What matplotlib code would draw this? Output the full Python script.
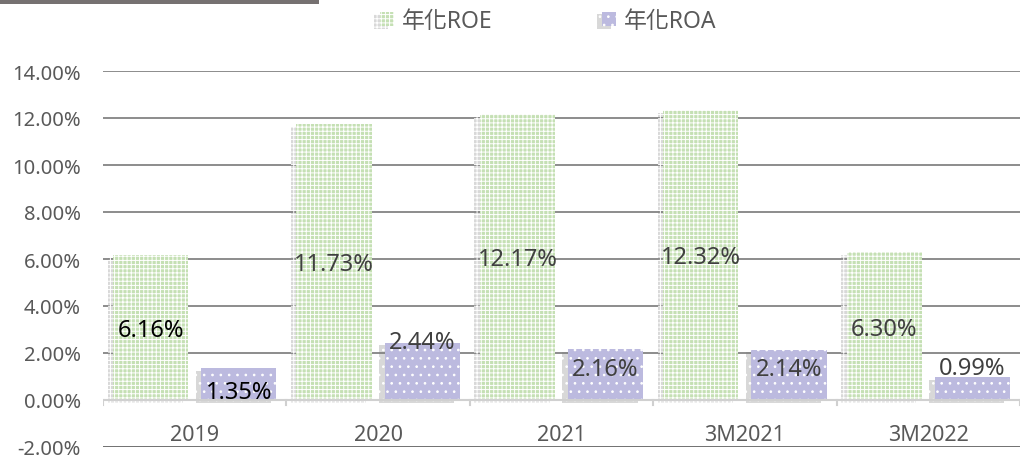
import matplotlib
matplotlib.use('Agg')
import matplotlib.pyplot as plt
import matplotlib.patheffects as pe
from matplotlib.patches import Rectangle
import numpy as np

plt.rcParams['font.family'] = ['Noto Sans', 'Noto Sans CJK TC', 'DejaVu Sans']
plt.rcParams['hatch.linewidth'] = 0.7

categories = ['2019', '2020', '2021', '3M2021', '3M2022']
roe = [6.16, 11.73, 12.17, 12.32, 6.30]
roa = [1.35, 2.44, 2.16, 2.14, 0.99]
roe_labels = ['6.16%', '11.73%', '12.17%', '12.32%', '6.30%']
roa_labels = ['1.35%', '2.44%', '2.16%', '2.14%', '0.99%']
# where each data label sits (value units), as in the reference
roe_label_y = [2.98, 5.8, 6.0, 6.09, 3.02]
roa_label_y = [0.34, 2.47, 1.32, 1.32, 1.36]
label_colors = ['black', '#404040', '#404040', '#404040', '#404040']
yticks = [-2, 0, 2, 4, 6, 8, 10, 12, 14]

fig = plt.figure(figsize=(10.25, 4.56), dpi=100)
ax = fig.add_axes([103 / 1025, 8 / 456, 917 / 1025, 376 / 456])

x = np.arange(len(categories))
w = 0.41
off = 0.24
shadow = [pe.SimplePatchShadow(offset=(-4, -2), shadow_rgbFace='#7f7f7f', alpha=0.3), pe.Normal()]

b1 = ax.bar(x - off, roe, w, color='#c5e0b4', edgecolor='white', hatch='++++',
            linewidth=0, zorder=3, label='年化ROE')
b2 = ax.bar(x + off, roa, w, color='#bcbadf', edgecolor='white', hatch='..',
            linewidth=0, zorder=3, label='年化ROA')
for b in list(b1) + list(b2):
    b.set_path_effects(shadow)

for i in range(len(categories)):
    ax.text(x[i] - off, roe_label_y[i], roe_labels[i], ha='center', va='center',
            fontsize=17, color=label_colors[i], zorder=5)
    ax.text(x[i] + off, roa_label_y[i], roa_labels[i], ha='center', va='center',
            fontsize=17, color=label_colors[i], zorder=5)
    ax.text(x[i], -1.45, categories[i], ha='center', va='center', fontsize=15.5, color='#595959')

# gridlines
for t in yticks:
    if t == -2:
        ax.axhline(t, color='#595959', lw=1.2, zorder=1)
    elif t == 0:
        ax.axhline(t, color='#d0d0d0', lw=1.5, zorder=4)
    else:
        ax.axhline(t, color='#8c8c8c', lw=1.4, zorder=1)
for xb in np.arange(-0.5, len(categories), 1.0):
    ax.plot([xb, xb], [0, -0.2], color='#d0d0d0', lw=1.5, zorder=4)

ax.set_xlim(-0.5, len(categories) - 0.5)
ax.set_ylim(-2, 14)
ax.set_yticks(yticks)
ax.set_yticklabels([f'{t:.2f}%' for t in yticks], fontsize=14.5, color='#595959')
ax.tick_params(axis='y', length=0, pad=16)
ax.set_xticks([])
for s in ax.spines.values():
    s.set_visible(False)
ax.patch.set_visible(False)

fig.legend(handles=[b1, b2], loc='center', bbox_to_anchor=(0.535, 0.952), ncol=2,
           frameon=False, fontsize=16.5, handlelength=0.6, handleheight=0.6,
           columnspacing=4.8, handletextpad=0.35, labelcolor='#595959')

fig.patches.append(Rectangle((0, 451 / 456), 319 / 1025, 5 / 456, transform=fig.transFigure,
                             facecolor='#767171', edgecolor='none'))

fig.savefig('out.png', dpi=100)
